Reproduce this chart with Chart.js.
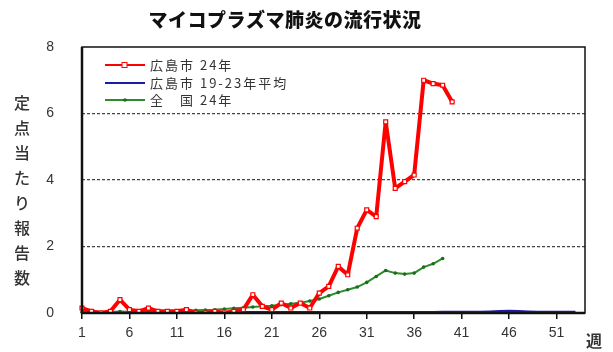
<!DOCTYPE html>
<html>
<head>
<meta charset="utf-8">
<script src="https://cdn.jsdelivr.net/npm/chart.js@4"></script>
<style>
  html, body { margin: 0; padding: 0; background: #fff; }
  #wrap { width: 613px; height: 352px; }
</style>
</head>
<body>
<div id="wrap"><canvas id="mycoChart" width="613" height="352"></canvas></div>
<script>
// weeks 1..54 on the category axis (data stops at 53)
const weeks = Array.from({ length: 54 }, (_, i) => String(i + 1));
const shownWeeks = ['1', '6', '11', '16', '21', '26', '31', '36', '41', '46', '51'];
const yTicks = [0, 2, 4, 6, 8];

// 広島市 24年 (weeks 1-40)
const hiroshima24 = [0.15, 0.05, 0.0, 0.05, 0.4, 0.1, 0.05, 0.15, 0.05, 0.05,
  0.05, 0.1, 0.0, 0.0, 0.05, 0.0, 0.05, 0.1, 0.55, 0.2,
  0.1, 0.3, 0.15, 0.3, 0.15, 0.6, 0.8, 1.4, 1.15, 2.55,
  3.1, 2.9, 5.75, 3.75, 3.95, 4.15, 7.0, 6.9, 6.85, 6.35];

// 広島市 19-23年平均 (weeks 1-53)
const hiroshimaAvg = [0.03, 0.03, 0.02, 0.02, 0.03, 0.02, 0.02, 0.02, 0.02, 0.02,
  0.02, 0.02, 0.02, 0.02, 0.02, 0.02, 0.02, 0.02, 0.02, 0.02,
  0.02, 0.02, 0.02, 0.02, 0.02, 0.02, 0.02, 0.02, 0.02, 0.02,
  0.02, 0.02, 0.02, 0.02, 0.02, 0.02, 0.02, 0.02, 0.03, 0.03,
  0.03, 0.03, 0.03, 0.04, 0.05, 0.06, 0.05, 0.04, 0.03, 0.03,
  0.03, 0.03, 0.03];

// 全国 24年 (weeks 1-39)
const national24 = [0.03, 0.03, 0.03, 0.03, 0.04, 0.04, 0.04, 0.05, 0.05, 0.05,
  0.06, 0.07, 0.08, 0.09, 0.1, 0.12, 0.14, 0.16, 0.18, 0.2,
  0.22, 0.25, 0.28, 0.31, 0.36, 0.42, 0.52, 0.62, 0.7, 0.78,
  0.92, 1.1, 1.28, 1.2, 1.17, 1.2, 1.38, 1.48, 1.64];

const titleText = 'マイコプラズマ肺炎の流行状況';
const yTitle = '定点当たり報告数';
const xUnit = '週';

const jpFont = '"Noto Sans CJK JP", "Noto Sans", sans-serif';

// frame, title, vertical y title, legend and 週 label
const decorations = {
  id: 'decorations',
  afterDatasetsDraw(chart) {
    const { ctx, chartArea: a } = chart;
    ctx.save();
    ctx.strokeStyle = '#111';
    ctx.lineWidth = 1.5;
    ctx.strokeRect(a.left, a.top, a.right - a.left, a.bottom - a.top);
    ctx.lineWidth = 2.5;
    ctx.beginPath();
    ctx.moveTo(a.left, a.top);
    ctx.lineTo(a.left, a.bottom);
    ctx.lineTo(a.right, a.bottom);
    ctx.stroke();

    // legend
    const rows = [65, 83, 100];
    chart.data.datasets.forEach((ds, i) => {
      const y = rows[i];
      ctx.strokeStyle = ds.borderColor;
      ctx.lineWidth = 2;
      ctx.beginPath();
      ctx.moveTo(105, y);
      ctx.lineTo(145, y);
      ctx.stroke();
      if (ds.pointRadius > 0) {
        ctx.fillStyle = ds.pointBackgroundColor;
        ctx.strokeStyle = ds.borderColor;
        ctx.lineWidth = 1;
        if (ds.pointStyle === 'rect') {
          ctx.fillRect(122, y - 2.5, 5, 5);
          ctx.strokeRect(122, y - 2.5, 5, 5);
        } else {
          ctx.beginPath();
          ctx.arc(125, y, 1.8, 0, Math.PI * 2);
          ctx.fill();
        }
      }
      ctx.fillStyle = '#333';
      ctx.font = '13px ' + jpFont;
      ctx.letterSpacing = '2px';
      ctx.textAlign = 'left';
      ctx.textBaseline = 'middle';
      ctx.fillText(ds.label, 150, y);
    });
    ctx.restore();
  },
  afterDraw(chart) {
    const { ctx } = chart;
    ctx.save();
    ctx.fillStyle = '#111';
    ctx.font = '900 19px ' + jpFont;
    ctx.letterSpacing = '0.5px';
    ctx.textAlign = 'center';
    ctx.textBaseline = 'middle';
    ctx.fillText(titleText, 285, 20);

    ctx.letterSpacing = '0px';
    ctx.fillStyle = '#333';
    ctx.font = '500 16px ' + jpFont;
    [...yTitle].forEach((ch, i) => ctx.fillText(ch, 22, 103 + i * 25));

    ctx.font = 'bold 16px ' + jpFont;
    ctx.fillText(xUnit, 594, 341);
    ctx.restore();
  }
};

const ctx = document.getElementById('mycoChart').getContext('2d');
const mycoChart = new Chart(ctx, {
  type: 'line',
  data: {
    labels: weeks,
    datasets: [
      {
        label: '広島市 24年',
        data: hiroshima24,
        borderColor: '#ff0000',
        borderWidth: 4,
        borderJoinStyle: 'round',
        borderCapStyle: 'round',
        pointStyle: 'rect',
        pointRadius: 2.8,
        pointBackgroundColor: '#ffffff',
        pointBorderColor: '#ff0000',
        pointBorderWidth: 1.2,
        order: 0
      },
      {
        label: '広島市 19-23年平均',
        data: hiroshimaAvg,
        borderColor: '#1c1ca8',
        borderWidth: 2.5,
        pointRadius: 0,
        order: 2
      },
      {
        label: '全　国 24年',
        data: national24,
        borderColor: '#2e8b2e',
        borderWidth: 2,
        borderJoinStyle: 'round',
        pointStyle: 'circle',
        pointRadius: 1.8,
        pointBackgroundColor: '#1d6b1d',
        pointBorderWidth: 0,
        order: 1
      }
    ]
  },
  options: {
    responsive: false,
    animation: false,
    layout: { padding: { top: 47, right: 28, left: 0, bottom: 0 } },
    plugins: {
      legend: { display: false },
      title: { display: false },
      tooltip: { enabled: false }
    },
    scales: {
      x: {
        offset: false,
        afterFit: (s) => { s.height = 39; },
        border: { display: false },
        grid: {
          drawOnChartArea: false,
          drawTicks: true,
          tickLength: 6,
          lineWidth: 1.5,
          color: (c) => (shownWeeks.includes(weeks[c.index]) ? '#111' : 'rgba(0,0,0,0)')
        },
        ticks: {
          autoSkip: false,
          maxRotation: 0,
          padding: 6,
          color: '#333',
          font: { family: 'Liberation Sans', size: 14 },
          callback: (v, i) => (shownWeeks.includes(weeks[i]) ? weeks[i] : '')
        }
      },
      y: {
        min: 0,
        max: 8,
        afterFit: (s) => { s.width = 82; },
        afterBuildTicks: (s) => { s.ticks = yTicks.map((v) => ({ value: v })); },
        border: { display: false, dash: [3, 2] },
        grid: {
          drawTicks: false,
          tickLength: 0,
          lineWidth: 1.3,
          color: (c) => (c.tick && (c.tick.value === 0 || c.tick.value === 8) ? 'rgba(0,0,0,0)' : '#444')
        },
        ticks: {
          padding: 28,
          color: '#333',
          font: { family: 'Liberation Sans', size: 14 }
        }
      }
    }
  },
  plugins: [decorations]
});
</script>
</body>
</html>
